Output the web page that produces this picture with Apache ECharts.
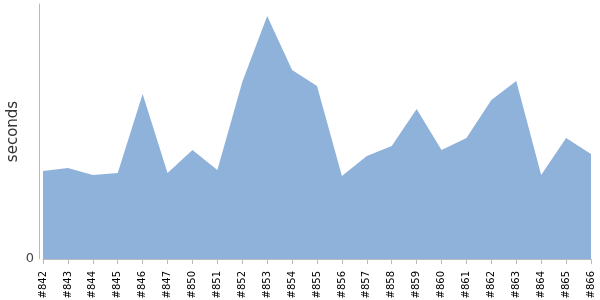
<!DOCTYPE html>
<html><head><meta charset="utf-8">
<script src="https://cdn.jsdelivr.net/npm/echarts@6/dist/echarts.min.js"></script>
<style>html,body{margin:0;padding:0;background:#fff}#c{width:600px;height:300px}</style>
</head><body><div id="c"></div>
<script>
var builds = ['#842','#843','#844','#845','#846','#847','#850','#851','#852','#853','#854','#855','#856','#857','#858','#859','#860','#861','#862','#863','#864','#865','#866'];
var seconds = [88,91,84,86,165,86,109,89,177,243,189,173,83,103,113,150,109,121,159,178,84,121,105];
var yMax = 255;
var chart = echarts.init(document.getElementById('c'), null, {renderer:'canvas'});
chart.setOption({
  animation:false,
  grid:{left:43,right:9,top:4,bottom:41,containLabel:false,outerBoundsMode:'none'},
  xAxis:{type:'category',data:builds,boundaryGap:false,offset:4,
    axisLine:{lineStyle:{color:'#bbb'}},
    axisTick:{length:5,lineStyle:{color:'#bbb'},interval:0},
    axisLabel:{rotate:90,interval:0,color:'#000',fontSize:10,fontFamily:'DejaVu Sans',margin:8}},
  yAxis:{type:'value',min:0,max:yMax,interval:yMax,offset:4,
    name:'seconds',nameLocation:'middle',nameGap:18,nameMoveOverlap:false,
    nameTextStyle:{fontSize:15,color:'#333',fontFamily:'DejaVu Sans'},
    axisLine:{show:true,lineStyle:{color:'#bbb'}},
    axisTick:{show:false},
    splitLine:{show:false},
    axisLabel:{color:'#444',fontSize:13,fontFamily:'DejaVu Sans',margin:5,formatter:function(v){return v===0?'0':'';}}},
  series:[{type:'line',data:seconds,symbol:'none',
    lineStyle:{width:0},
    areaStyle:{color:'#8fb2db',opacity:1}}]
});
</script></body></html>
